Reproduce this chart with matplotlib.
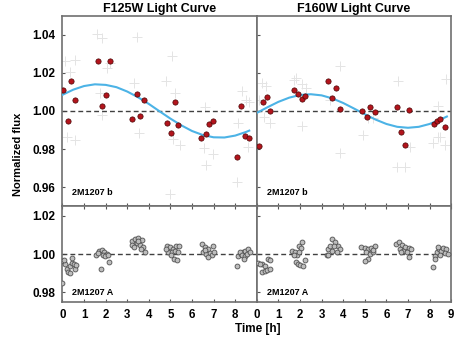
import matplotlib
matplotlib.use("Agg")
import matplotlib.pyplot as plt

plt.rcParams['font.family'] = ['Liberation Sans', 'DejaVu Sans']
plt.rcParams['font.weight'] = 'bold'

# ---------------- data ----------------
titles = ["F125W Light Curve", "F160W Light Curve"]
b_label = "2M1207 b"
a_label = "2M1207 A"
xticks_left = [0, 1, 2, 3, 4, 5, 6, 7, 8]
xticks_right = [0, 1, 2, 3, 4, 5, 6, 7, 8, 9]
yticks_top = [0.96, 0.98, 1.00, 1.02, 1.04]
yticks_bot = [0.98, 1.00, 1.02]

# F125W, 2M1207 b: binned points
j_b_t = [0.03, 0.25, 0.39, 0.59, 1.64, 1.84, 2.00, 2.18, 3.24, 3.43, 3.58, 3.78,
         4.85, 5.03, 5.19, 5.37, 6.42, 6.64, 6.79, 6.99, 8.10, 8.29, 8.47, 8.64]
j_b_f = [1.0112, 0.9949, 1.0157, 1.0058, 1.0260, 1.0026, 1.0084, 1.0260, 0.9958, 1.0089,
         0.9972, 1.0058, 0.9935, 0.9883, 1.0045, 0.9927, 0.9860, 0.9878, 0.9930, 0.9948,
         0.9759, 1.0028, 0.9867, 0.9857]
# F125W, individual frames (light crosses)
j_raw_t = [0.12, 0.37, 0.59, 0.59, 0.23, 1.62, 1.85, 1.81, 1.73, 2.04, 2.19, 3.43, 3.55,
           3.30, 4.81, 5.05, 5.12, 5.43, 5.20, 5.00, 6.59, 6.54, 6.67, 6.98, 8.32, 8.13,
           8.10, 8.59, 8.52, 8.66]
j_raw_f = [1.0262, 1.0206, 1.0267, 0.9848, 0.9866, 1.0402, 1.0384, 0.9979, 1.0093, 1.0224,
           1.0250, 1.0390, 0.9883, 1.0145, 1.0157, 1.0288, 0.9852, 0.9822, 1.0093, 0.9563,
           1.0019, 0.9804, 0.9717, 0.9773, 1.0107, 0.9935, 0.9630, 0.9813, 1.0058, 1.0045]
# F125W fit curve
j_fit_t = [0, 0.5, 1.0, 1.5, 2.0, 2.5, 3.0, 3.5, 4.0, 4.5, 5.0, 5.5, 6.0, 6.5, 7.0,
           7.5, 8.0, 8.5, 8.65]
j_fit_f = [1.0085, 1.0112, 1.0131, 1.0140, 1.0137, 1.0125, 1.0102, 1.0072, 1.0037,
           0.9998, 0.9960, 0.9925, 0.9895, 0.9874, 0.9862, 0.9861, 0.9871, 0.9890, 0.9897]

# F160W, 2M1207 b
h_b_t = [0.12, 0.31, 0.48, 0.63, 1.71, 1.90, 2.07, 2.21, 3.30, 3.47, 3.66, 3.84,
         4.89, 5.08, 5.25, 5.46, 6.50, 6.68, 6.85, 7.04, 8.19, 8.35, 8.50, 8.72]
h_b_f = [0.9818, 1.0049, 1.0075, 1.0000, 1.0108, 1.0091, 1.0061, 1.0079, 1.0159, 1.0068,
         1.0119, 1.0012, 1.0000, 0.9970, 1.0021, 0.9993, 1.0023, 0.9890, 0.9822, 1.0003,
         0.9934, 0.9948, 0.9958, 0.9916]
h_raw_t = [0.12, 0.23, 0.43, 0.32, 0.59, 1.82, 1.74, 2.07, 2.07, 2.28, 3.87, 3.83, 3.41,
           4.91, 5.14, 5.37, 6.53, 6.50, 6.84, 7.07, 8.38, 8.18, 8.38, 8.50, 8.77, 8.69]
h_raw_f = [1.0058, 1.0145, 1.0131, 0.9970, 0.9935, 1.0171, 1.0162, 0.9921, 1.0141, 1.0119,
           1.0238, 0.9782, 1.0058, 0.9874, 0.9962, 0.9962, 1.0157, 0.9708, 0.9708, 0.9813,
           1.0026, 0.9831, 0.9866, 0.9866, 1.0168, 0.9822]
h_fit_t = [0, 0.5, 1.0, 1.5, 2.0, 2.5, 3.0, 3.5, 4.0, 4.5, 5.0, 5.5, 6.0, 6.5, 7.0,
           7.5, 8.0, 8.5, 8.8]
h_fit_f = [0.9990, 1.0020, 1.0048, 1.0070, 1.0084, 1.0088, 1.0082, 1.0066, 1.0042,
           1.0013, 0.9983, 0.9955, 0.9932, 0.9917, 0.9912, 0.9917, 0.9932, 0.9955, 0.9971]

# F125W, 2M1207 A
j_a_t = [0.03, 0.12, 0.19, 0.26, 0.37, 0.34, 0.46, 0.52, 0.60, 0.62, 0.45, 0.08, 0.00,
         1.57, 1.70, 1.81, 1.91, 2.04, 1.88, 1.77, 2.14, 1.65, 1.98, 2.12,
         3.21, 3.36, 3.52, 3.67, 3.24, 3.44, 3.60, 3.75, 3.33, 3.64, 3.80, 3.49,
         4.86, 4.97, 5.12, 5.28, 5.38, 4.89, 5.05, 5.20, 5.35, 5.17, 5.32, 5.01, 4.81,
         6.44, 6.59, 6.74, 6.97, 6.51, 6.67, 6.82, 6.93, 6.74, 7.02, 6.59,
         8.06, 8.13, 8.25, 8.36, 8.47, 8.59, 8.21, 8.31, 8.44, 8.56, 8.67, 8.41]
j_a_f = [0.9962, 0.9945, 0.9919, 0.9907, 0.9898, 0.9936, 0.9953, 0.9945, 0.9919, 0.9940,
         0.9979, 0.9971, 0.9849,
         0.9997, 1.0014, 1.0023, 1.0010, 1.0000, 0.9993, 0.9924, 0.9957, 1.0003, 0.9991, 0.9997,
         1.0069, 1.0081, 1.0085, 1.0073, 1.0047, 1.0057, 1.0047, 1.0035, 1.0035, 1.0026,
         1.0012, 1.0069,
         1.0043, 1.0035, 1.0026, 1.0040, 1.0043, 1.0009, 1.0012, 1.0017, 1.0009, 0.9974,
         0.9971, 0.9995, 1.0026,
         1.0052, 1.0035, 1.0026, 1.0040, 1.0012, 1.0000, 1.0005, 0.9995, 0.9983, 1.0009, 1.0023,
         0.9939, 0.9991, 1.0000, 1.0009, 1.0017, 1.0026, 1.0009, 0.9995, 0.9991, 1.0000,
         1.0012, 0.9974]
# F160W, 2M1207 A
h_a_t = [0.06, 0.22, 0.37, 0.52, 0.60, 0.26, 0.37, 0.48, 0.60, 0.14,
         1.65, 1.76, 1.87, 1.96, 2.08, 2.05, 1.71, 1.81, 1.91, 2.02, 2.15, 2.22, 1.96,
         3.23, 3.30, 3.38, 3.50, 3.61, 3.76, 3.84, 3.46, 3.69, 3.56, 3.30,
         4.83, 4.99, 5.14, 5.30, 5.45, 5.06, 5.25, 5.37, 5.14, 5.03, 5.40,
         6.45, 6.57, 6.73, 6.88, 7.03, 7.14, 6.61, 6.79, 6.94, 7.06, 6.69,
         8.18, 8.23, 8.33, 8.42, 8.53, 8.64, 8.76, 8.27, 8.49, 8.69, 8.84, 8.38]
h_a_f = [0.9952, 0.9948, 0.9939, 0.9974, 0.9971, 0.9905, 0.9913, 0.9918, 0.9922, 0.9945,
         1.0017, 1.0009, 0.9995, 1.0040, 1.0061, 1.0029, 0.9995, 0.9957, 0.9948, 0.9943,
         0.9936, 0.9971, 1.0009,
         0.9995, 1.0026, 1.0043, 1.0078, 1.0061, 1.0043, 1.0026, 1.0017, 1.0009, 1.0040, 0.9995,
         1.0035, 1.0029, 1.0026, 1.0029, 1.0040, 1.0009, 1.0000, 1.0012, 0.9974, 0.9965, 1.0023,
         1.0052, 1.0061, 1.0047, 1.0035, 1.0029, 1.0026, 1.0026, 1.0017, 1.0009, 0.9983, 1.0009,
         0.9931, 0.9991, 1.0009, 1.0026, 1.0017, 1.0029, 1.0026, 0.9974, 0.9995, 1.0005,
         1.0000, 1.0035]

# ---------------- figure ----------------
W, H = 454, 338
fig = plt.figure(figsize=(W / 100, H / 100), dpi=100)

x0, xm, x1 = 62.5 / W, 256.8 / W, 451.2 / W
yt_top, yt_bot = 1 - 15.7 / H, 1 - 206.3 / H
yb_bot = 1 - 301.7 / H

ax_tl = fig.add_axes([x0, yt_bot, xm - x0, yt_top - yt_bot])
ax_tr = fig.add_axes([xm, yt_bot, x1 - xm, yt_top - yt_bot])
ax_bl = fig.add_axes([x0, yb_bot, xm - x0, yt_bot - yb_bot])
ax_br = fig.add_axes([xm, yb_bot, x1 - xm, yt_bot - yb_bot])

spine_col = '#707070'
red = '#b3141c'
blue = '#4cb3e6'

def style(ax, top_panel, left):
    ax.set_xlim(0, 9)
    if top_panel:
        ax.set_ylim(0.95, 1.05)
        ax.set_yticks(yticks_top)
    else:
        ax.set_ylim(0.975, 1.025)
        ax.set_yticks(yticks_bot)
    for s in ax.spines.values():
        s.set_color(spine_col)
        s.set_linewidth(1.2)
    ax.tick_params(direction='in', length=2.5, width=0.8, color='#555555',
                   top=not top_panel, bottom=True, left=True, right=False)
    ax.tick_params(axis='y', labelsize=8.5, pad=5)
    ax.tick_params(axis='x', labelsize=8.3, pad=5)
    ax.set_xticks(xticks_left if left else xticks_right)
    if top_panel:
        ax.set_xticklabels([])
    if not left:
        ax.set_yticklabels([])
    else:
        ax.set_yticklabels([f"{v:.2f}" for v in ax.get_yticks()], fontweight='bold')
    if not top_panel:
        ax.set_xticklabels([str(v) for v in ax.get_xticks()], fontweight='bold')
    ax.axhline(1.0, color='#404040', lw=1.0, ls=(0, (3.5, 2.2)), zorder=2)

for ax, top_panel, left in [(ax_tl, True, True), (ax_tr, True, False),
                            (ax_bl, False, True), (ax_br, False, False)]:
    style(ax, top_panel, left)

# top panels
for ax, rt, rf, ft, ff, bt, bf, title in [
        (ax_tl, j_raw_t, j_raw_f, j_fit_t, j_fit_f, j_b_t, j_b_f, titles[0]),
        (ax_tr, h_raw_t, h_raw_f, h_fit_t, h_fit_f, h_b_t, h_b_f, titles[1])]:
    ax.plot(rt, rf, ls='none', marker='+', ms=7, mew=0.7, color='#e4e4e4', zorder=1)
    ax.plot(ft, ff, color=blue, lw=1.5, zorder=3)
    ax.plot(bt, bf, ls='none', marker='o', ms=3.8, mfc=red, mec='#4a0505',
            mew=0.5, zorder=4)
    ax.set_title(title, fontsize=9, fontweight='bold', pad=3)
    ax.text(0.05, 0.075, b_label, transform=ax.transAxes, fontsize=6.5,
            fontweight='bold', va='center', ha='left')

# bottom panels
for ax, at, af in [(ax_bl, j_a_t, j_a_f), (ax_br, h_a_t, h_a_f)]:
    ax.plot(at, af, ls='none', marker='o', ms=3.5, mfc='#bdbdbd', mec='#505050',
            mew=0.6, zorder=4)
    ax.text(0.05, 0.1, a_label, transform=ax.transAxes, fontsize=6.5,
            fontweight='bold', va='center', ha='left')

fig.text(18 / W, 1 - 154 / H, "Normalized flux", rotation=90, fontsize=8,
         fontweight='bold', ha='center', va='center')
fig.text(257.5 / W, 1 - 329 / H, "Time [h]", fontsize=8.5, fontweight='bold',
         ha='center', va='center')

fig.savefig("out.png", dpi=100, facecolor='white')
